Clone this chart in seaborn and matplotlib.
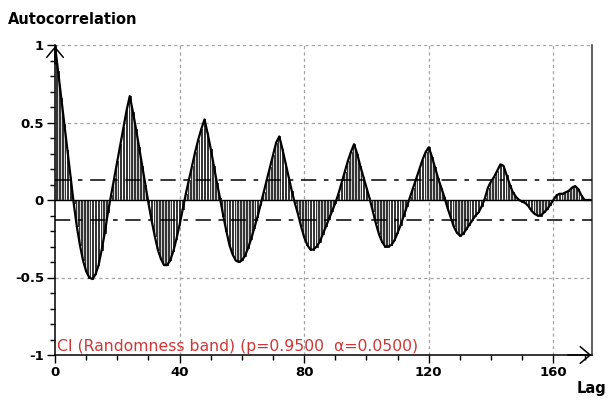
import numpy as np
import pandas as pd
import matplotlib
matplotlib.use("Agg")
import matplotlib.pyplot as plt
from matplotlib.ticker import FixedLocator, MultipleLocator, FuncFormatter
import seaborn as sns

# ---- data ----
acf = [
    1.00, 0.83, 0.66, 0.49, 0.32, 0.15, -0.02,                        # 0-6
    -0.17, -0.29, -0.39, -0.46, -0.50, -0.51, -0.48, -0.42, -0.32,   # 7-15
    -0.21, -0.08,                                                    # 16-17
    0.03, 0.14, 0.25, 0.36, 0.47, 0.58, 0.67, 0.57, 0.46, 0.34,      # 18-27
    0.22, 0.10, -0.02,                                               # 28-30
    -0.13, -0.23, -0.32, -0.38, -0.42, -0.42, -0.39, -0.33, -0.25,   # 31-39
    -0.16, -0.06,                                                    # 40-41
    0.04, 0.13, 0.22, 0.31, 0.39, 0.46, 0.52, 0.43, 0.33, 0.22,      # 42-51
    0.11, 0.01,                                                      # 52-53
    -0.10, -0.20, -0.29, -0.35, -0.39, -0.40, -0.39, -0.36, -0.31,   # 54-62
    -0.25, -0.18, -0.11, -0.03,                                      # 63-66
    0.05, 0.13, 0.21, 0.29, 0.37, 0.41, 0.33, 0.24, 0.15, 0.06,      # 67-76
    -0.02, -0.09, -0.17, -0.24, -0.29, -0.32, -0.32, -0.30, -0.27,   # 77-85
    -0.22, -0.17, -0.12, -0.07, -0.02,                               # 86-90
    0.04, 0.11, 0.18, 0.25, 0.31, 0.36, 0.30, 0.22, 0.15, 0.08,      # 91-100
    0.01,                                                            # 101
    -0.07, -0.15, -0.22, -0.27, -0.30, -0.30, -0.29, -0.26, -0.21,   # 102-110
    -0.16, -0.10, -0.04,                                             # 111-113
    0.02, 0.08, 0.14, 0.20, 0.26, 0.31, 0.34, 0.28, 0.21, 0.14,      # 114-123
    0.08, 0.02,                                                      # 124-125
    -0.05, -0.11, -0.17, -0.21, -0.23, -0.22, -0.19, -0.16, -0.13,   # 126-134
    -0.10, -0.08, -0.04, 0.01,                                       # 135-138
    0.08, 0.12, 0.15, 0.19, 0.23, 0.22, 0.16, 0.10, 0.05, 0.02,      # 139-148
    0.00, -0.01, -0.02, -0.04, -0.07, -0.09, -0.10, -0.10, -0.08,    # 149-157
    -0.06, -0.03, 0.00,                                              # 158-160
    0.03, 0.04, 0.04, 0.05, 0.06, 0.08, 0.09, 0.07, 0.03, 0.00,      # 161-170
    0.00, 0.00,                                                      # 171-172
]
lags = list(range(len(acf)))
ci_upper = 0.13
ci_lower = -0.13
x_ticks = [0, 40, 80, 120, 160]
y_ticks = [-1, -0.5, 0, 0.5, 1]
y_tick_labels = ["-1", "-0.5", "0", "0.5", "1"]
ci_text = "CI (Randomness band) (p=0.9500  \u03b1=0.0500)"

df = pd.DataFrame({"Lag": lags, "Autocorrelation": acf})

sns.set_theme(style="white")
plt.rcParams["font.family"] = ["DejaVu Sans"]
plt.rcParams["text.color"] = "black"
plt.rcParams["xtick.color"] = "black"
plt.rcParams["ytick.color"] = "black"

fig = plt.figure(figsize=(6.08, 4.03), dpi=100)
ax = fig.add_axes([55 / 608, 1 - 355 / 403, 537 / 608, 310 / 403])

# grid
grid_kw = dict(color="#a0a0a0", lw=0.9, dashes=(2.5, 2.5), zorder=0)
for gx in x_ticks[1:]:
    ax.axvline(gx, **grid_kw)
for gy in [0.5, -0.5, 1.0]:
    ax.axhline(gy, **grid_kw)

# stems (outlined bars)
ax.bar(df["Lag"], df["Autocorrelation"], width=0.55, color="#d0d0d0",
       edgecolor="black", linewidth=0.55, zorder=2)
ax.axhline(0, color="black", lw=1.0, zorder=3)

# envelope curve
sns.lineplot(data=df, x="Lag", y="Autocorrelation", ax=ax, color="black",
             lw=1.6, zorder=4)

# randomness band
band_kw = dict(color="black", lw=1.1, dashes=(10, 5, 3, 5), zorder=3)
ax.axhline(ci_upper, **band_kw)
ax.axhline(ci_lower, **band_kw)

ax.set_xlim(0, 172.4)
ax.set_ylim(-1, 1)
ax.set_xlabel("")
ax.set_ylabel("")

ax.xaxis.set_major_locator(FixedLocator(x_ticks))
ax.xaxis.set_minor_locator(MultipleLocator(10))
ax.yaxis.set_major_locator(FixedLocator(y_ticks))
ax.yaxis.set_major_formatter(FuncFormatter(
    lambda v, p: y_tick_labels[y_ticks.index(v)] if v in y_ticks else ""))
ax.yaxis.set_minor_locator(MultipleLocator(0.1))
ax.tick_params(axis="both", which="major", direction="out", length=6, width=1,
               color="black", labelcolor="black", labelsize=9.5, pad=2,
               bottom=True, left=True)
ax.tick_params(axis="both", which="minor", direction="out", length=3.5, width=1,
               color="black", bottom=True, left=True)
for lab in ax.get_xticklabels() + ax.get_yticklabels():
    lab.set_fontweight("bold")

for side in ["left", "bottom", "right"]:
    ax.spines[side].set_visible(True)
    ax.spines[side].set_color("black")
    ax.spines[side].set_linewidth(1.1)
ax.spines["right"].set_color("#333333")
ax.spines["top"].set_visible(False)

# arrow heads on the axes
ax.annotate("", xy=(0, 1.005), xytext=(0, 0.93), xycoords="axes fraction",
            arrowprops=dict(arrowstyle="->,head_length=0.6,head_width=0.5",
                            lw=1.1, color="black"), annotation_clip=False)
ax.annotate("", xy=(1.004, 0), xytext=(0.95, 0), xycoords="axes fraction",
            arrowprops=dict(arrowstyle="->,head_length=0.6,head_width=0.5",
                            lw=1.1, color="black"), annotation_clip=False)

ax.text(0.5, -0.995, ci_text, color="#d03535", fontsize=11.3,
        ha="left", va="bottom", zorder=5)

fig.text(8 / 608, 1 - 24 / 403, "Autocorrelation", fontsize=10.5,
         fontweight="bold", ha="left", va="baseline", color="black")
fig.text(577 / 608, 1 - 393 / 403, "Lag", fontsize=10.5,
         fontweight="bold", ha="left", va="baseline", color="black")

fig.savefig("out.png", dpi=100, facecolor="white")
